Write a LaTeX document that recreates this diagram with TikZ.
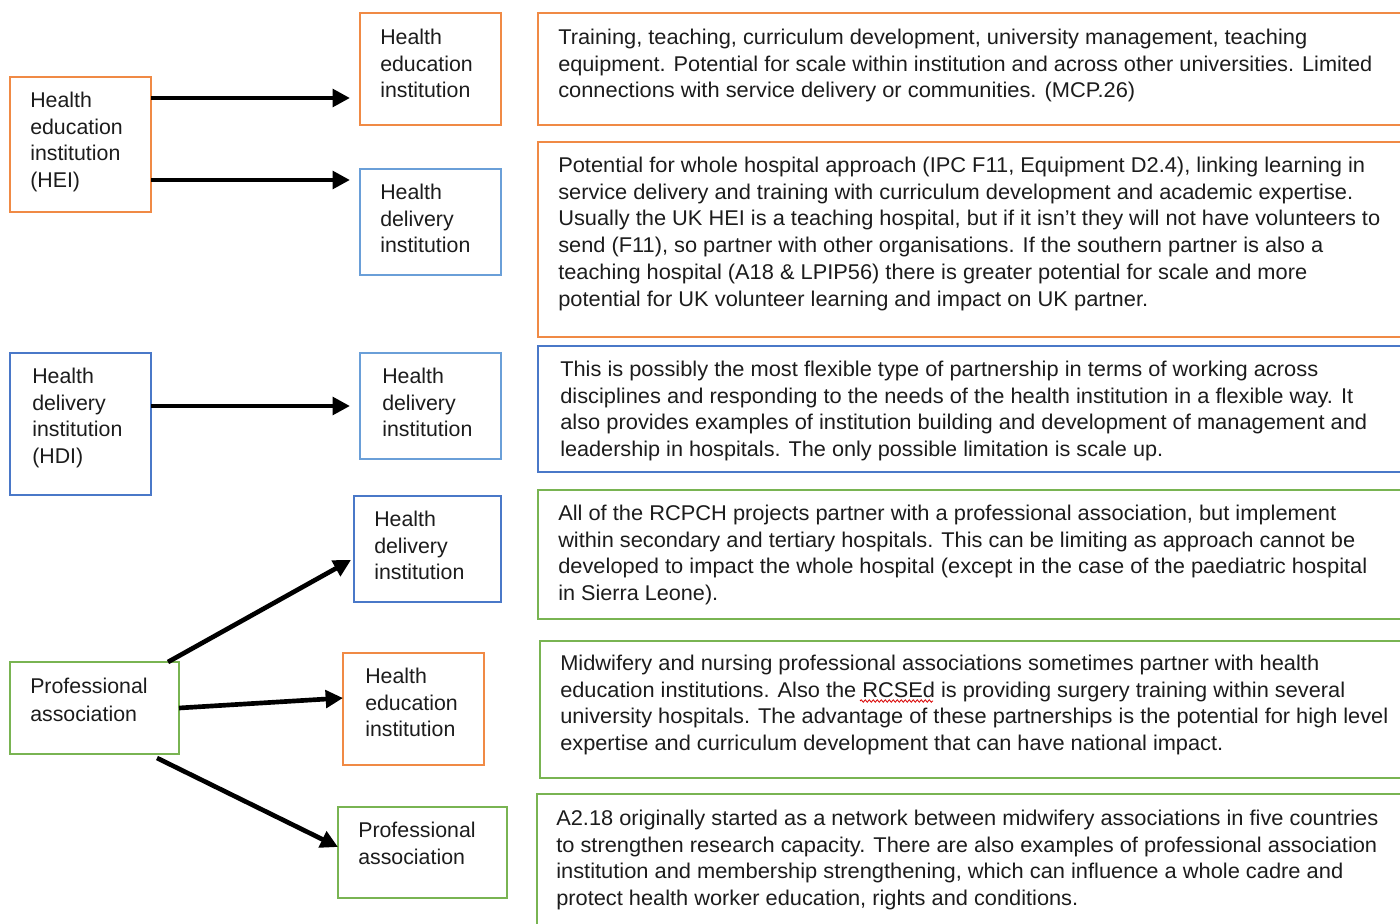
\documentclass[tikz,border=0pt]{standalone}
\usepackage{fontspec}
\setmainfont{Liberation Sans}
\usepackage{graphicx}
\usetikzlibrary{arrows.meta,calc,decorations.pathmorphing}
\newdimen\pxu \pxu=0.75pt
\newcommand\fl[2]{\resizebox{#1\pxu}{\height}{#2}}
\definecolor{orng}{HTML}{F08A45}
\definecolor{blu}{HTML}{4A78C8}
\definecolor{lblu}{HTML}{6A9FD8}
\definecolor{grn}{HTML}{79B452}
\definecolor{ink}{HTML}{1C1C1C}
\tikzset{
  bx/.style n args={3}{draw=#1, line width=1.5pt, minimum width=#2*0.75pt, minimum height=#3*0.75pt, anchor=north west, inner sep=0pt, outer sep=0pt},
  txt/.style={anchor=north west, inner sep=0pt, align=left, text=ink, font=\fontsize{16}{20.1}\selectfont},
  arr/.style={draw=black, line width=3.5pt, -{Triangle[length=13pt,width=13pt]}}
}
\begin{document}
\begin{tikzpicture}[x=0.75pt,y=-0.75pt]
\useasboundingbox (0,0) rectangle (1400,924);
\clip (0,0) rectangle (1400,924);
\fill[white] (0,0) rectangle (1400,924);

% left column boxes
\node[bx={orng}{141}{135}] (hei) at (10,77) {};
\node[bx={blu}{141}{142}] (hdi) at (10,353) {};
\node[bx={grn}{169}{92}] (pa) at (10,662) {};

% middle column boxes
\node[bx={orng}{141}{112}] (heiA) at (360,13) {};
\node[bx={lblu}{141}{106}] (hdiA) at (360,169) {};
\node[bx={lblu}{141}{106}] (hdiB) at (360,353) {};
\node[bx={blu}{147}{106}] (hdiC) at (354,496) {};
\node[bx={orng}{141}{112}] (heiC) at (343,653) {};
\node[bx={grn}{169}{91}] (paC) at (338,807) {};

% right column boxes
\node[bx={orng}{900}{112}] (d1) at (538,13) {};
\node[bx={orng}{900}{195}] (d2) at (538,142) {};
\node[bx={blu}{900}{126}] (d3) at (538,346) {};
\node[bx={grn}{900}{129}] (d4) at (538,490) {};
\node[bx={grn}{900}{137}] (d5) at (540,641) {};
\node[bx={grn}{900}{160}] (d6) at (537,794) {};

% small box texts
\node[txt] (thei) at (30,87) {\rule{0pt}{15pt}Health\\education\\institution\\(HEI)};
\node[txt] (thdi) at (32,363) {\rule{0pt}{15pt}Health\\delivery\\institution\\(HDI)};
\node[txt, font=\fontsize{16}{21}\selectfont] (tpa) at (30,673) {\rule{0pt}{15pt}Professional\\association};
\node[txt] (theiA) at (380,24) {\rule{0pt}{15pt}Health\\education\\institution};
\node[txt] (thdiA) at (380,179) {\rule{0pt}{15pt}Health\\delivery\\institution};
\node[txt] (thdiB) at (382,363) {\rule{0pt}{15pt}Health\\delivery\\institution};
\node[txt] (thdiC) at (374,506) {\rule{0pt}{15pt}Health\\delivery\\institution};
\node[txt] (theiC) at (365,663) {\rule{0pt}{15pt}Health\\education\\institution};
\node[txt] (tpaC) at (358,817) {\rule{0pt}{15pt}Professional\\association};

% description texts
\node[txt] (td1) at (558,24) {\rule{0pt}{15pt}\fl{749}{Training, teaching, curriculum development, university management, teaching}\\
\fl{814}{equipment. Potential for scale within institution and across other universities. Limited}\\
\fl{577}{connections with service delivery or communities. (MCP.26)}};

\node[txt] (td2) at (558,152) {\rule{0pt}{15pt}\fl{807}{Potential for whole hospital approach (IPC F11, Equipment D2.4), linking learning in}\\
\fl{795}{service delivery and training with curriculum development and academic expertise.}\\
\fl{822}{Usually the UK HEI is a teaching hospital, but if it isn’t they will not have volunteers to}\\
\fl{765}{send (F11), so partner with other organisations. If the southern partner is also a}\\
\fl{749}{teaching hospital (A18 \& LPIP56) there is greater potential for scale and more}\\
\fl{590}{potential for UK volunteer learning and impact on UK partner.}};

\node[txt] (td3) at (560,356) {\rule{0pt}{15pt}\fl{758}{This is possibly the most flexible type of partnership in terms of working across}\\
\fl{793}{disciplines and responding to the needs of the health institution in a flexible way. It}\\
\fl{807}{also provides examples of institution building and development of management and}\\
\fl{603}{leadership in hospitals. The only possible limitation is scale up.}};

\node[txt] (td4) at (558,500) {\rule{0pt}{15pt}\fl{778}{All of the RCPCH projects partner with a professional association, but implement}\\
\fl{797}{within secondary and tertiary hospitals. This can be limiting as approach cannot be}\\
\fl{809}{developed to impact the whole hospital (except in the case of the paediatric hospital}\\
\fl{160}{in Sierra Leone).}};

\node[txt] (td5) at (560,650) {\rule{0pt}{15pt}\fl{759}{Midwifery and nursing professional associations sometimes partner with health}\\
\fl{785}{education institutions. Also the RCSEd is providing surgery training within several}\\
\fl{828}{university hospitals. The advantage of these partnerships is the potential for high level}\\
\fl{663}{expertise and curriculum development that can have national impact.}};

\node[txt] (td6) at (556,805) {\rule{0pt}{15pt}\fl{822}{A2.18 originally started as a network between midwifery associations in five countries}\\
\fl{821}{to strengthen research capacity. There are also examples of professional association}\\
\fl{787}{institution and membership strengthening, which can influence a whole cadre and}\\
\fl{522}{protect health worker education, rights and conditions.}};

% spell-check squiggle under RCSEd
\coordinate (sq1) at (860,701);
\coordinate (sq2) at (933,701);
\draw[red!85!black, line width=0.6pt, decorate, decoration={snake, amplitude=0.9pt, segment length=3pt}] (sq1) -- (sq2);

% arrows
\draw[arr] ($(hei.north east)+(0,21)$) -- ($(heiA.north west)+(-10,85)$);
\draw[arr] ($(hei.north east)+(0,103)$) -- ($(hdiA.north west)+(-10,11)$);
\draw[arr] ($(hdi.north east)+(0,53)$) -- ($(hdiB.north west)+(-10,53)$);
\draw[arr] ($(pa.north west)+(158,0)$) -- ($(hdiC.north west)+(-3,64)$);
\draw[arr] ($(pa.north east)+(0,46)$) -- ($(heiC.north west)+(0,45)$);
\draw[arr] ($(pa.south west)+(147,4)$) -- ($(paC.north west)+(0,40)$);
\end{tikzpicture}
\end{document}
